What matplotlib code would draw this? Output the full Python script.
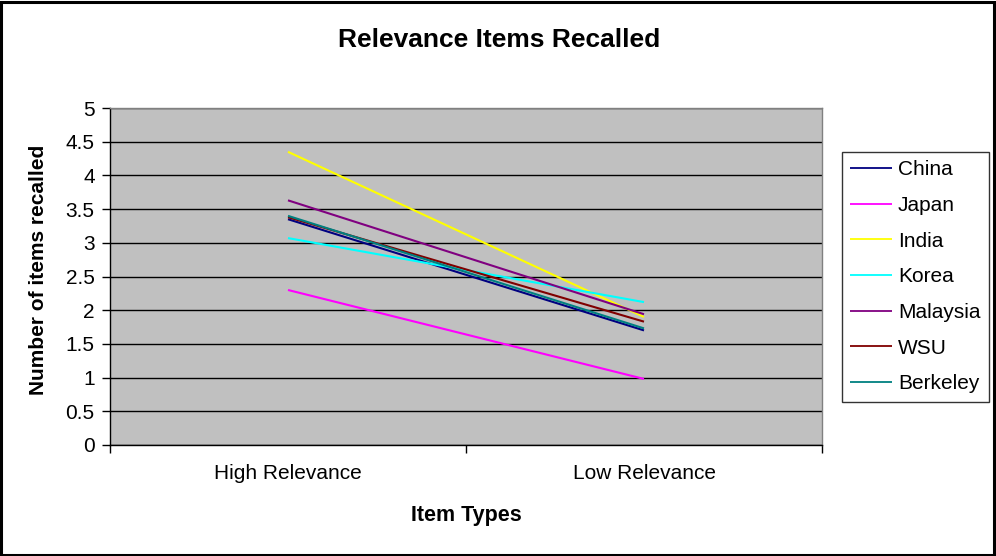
import matplotlib
matplotlib.use("Agg")
import matplotlib.pyplot as plt
from matplotlib.patches import Rectangle

plt.rcParams['font.family'] = ['Liberation Sans', 'DejaVu Sans']

categories = ["High Relevance", "Low Relevance"]
series_names = ["China", "Japan", "India", "Korea", "Malaysia", "WSU", "Berkeley"]
china = [3.35, 1.70]
japan = [2.30, 0.98]
india = [4.35, 1.90]
korea = [3.07, 2.12]
malaysia = [3.63, 1.94]
wsu = [3.38, 1.83]
berkeley = [3.40, 1.73]
series_values = [china, japan, india, korea, malaysia, wsu, berkeley]
colors = ["#000080", "#FF00FF", "#FFFF00", "#00FFFF", "#800080", "#800000", "#008080"]
yticks = [0, 0.5, 1, 1.5, 2, 2.5, 3, 3.5, 4, 4.5, 5]
ytick_labels = ["0", "0.5", "1", "1.5", "2", "2.5", "3", "3.5", "4", "4.5", "5"]

W, H = 996, 556
fig = plt.figure(figsize=(W / 100, H / 100), dpi=100)
fig.patches.append(Rectangle((0.0015, 0.002), 0.996, 0.995, transform=fig.transFigure,
                             fill=False, edgecolor='black', linewidth=2.2))

left, right, top, bottom = 110, 822, 108, 445
ax = fig.add_axes([left / W, 1 - bottom / H, (right - left) / W, (bottom - top) / H])
ax.set_facecolor("#C0C0C0")

x = list(range(len(categories)))
for name, vals, c in zip(series_names, series_values, colors):
    ax.plot(x, vals, color=c, linewidth=1.5, label=name, zorder=3, solid_capstyle='butt')

ax.set_xlim(-0.5, len(categories) - 0.5)
ax.set_ylim(0, 5)
ax.set_yticks(yticks)
ax.set_yticklabels(ytick_labels)
ax.yaxis.grid(True, color='black', linewidth=1.0, zorder=1)
ax.set_axisbelow(True)

ax.set_xticks(x)
ax.set_xticklabels(categories)
ax.set_xticks([i - 0.5 for i in range(len(categories) + 1)], minor=True)
ax.tick_params(axis='x', which='major', length=0, pad=14, labelsize=15)
ax.tick_params(axis='x', which='minor', length=6, width=1, color='black', direction='out')
ax.tick_params(axis='y', which='major', length=6, width=1, color='black', direction='out',
               pad=5, labelsize=15)

for s in ['left', 'bottom']:
    ax.spines[s].set_color('black')
    ax.spines[s].set_linewidth(1.0)
for s in ['top', 'right']:
    ax.spines[s].set_color('#808080')
    ax.spines[s].set_linewidth(1.0)

fig.text(499.5 / W, 1 - 40 / H, "Relevance Items Recalled", ha='center', va='center',
         fontsize=19, fontweight='bold')
fig.text(39 / W, 1 - 270 / H, "Number of items recalled", ha='center', va='center',
         rotation=90, fontsize=15, fontweight='bold')
fig.text(466 / W, 1 - 516 / H, "Item Types", ha='center', va='center',
         fontsize=15.5, fontweight='bold')

leg = fig.legend(loc='upper left', bbox_to_anchor=(841.5 / W, 1 - 151.5 / H),
                 fontsize=15, frameon=True, fancybox=False, edgecolor='black',
                 handlelength=2.0, handletextpad=0.28, labelspacing=0.8,
                 borderpad=0.42, borderaxespad=0)
leg.get_frame().set_linewidth(1.0)
for l in leg.get_lines():
    l.set_linewidth(1.3)

fig.savefig("out.png", dpi=100)
